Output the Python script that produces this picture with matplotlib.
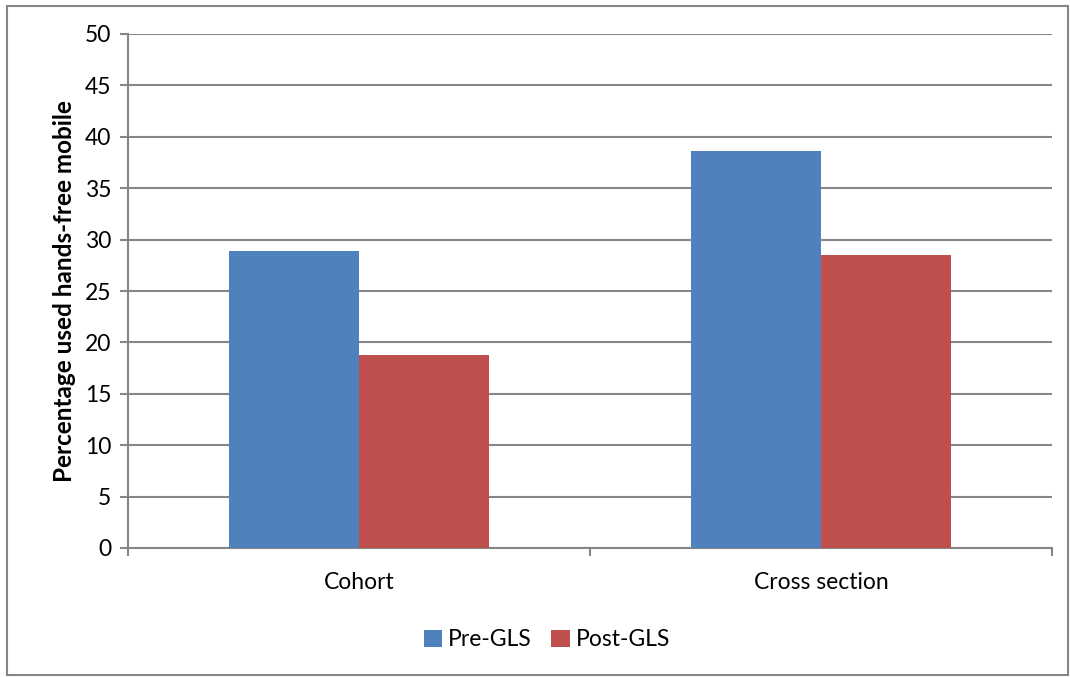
import matplotlib
matplotlib.use("Agg")
import matplotlib.pyplot as plt
import numpy as np
from matplotlib.patches import Rectangle

categories = ["Cohort", "Cross section"]
series_names = ["Pre-GLS", "Post-GLS"]
pre_gls = [28.9, 38.6]
post_gls = [18.8, 28.5]
colors = ["#4F81BD", "#C0504D"]

plt.rcParams['font.family'] = ['Lato', 'DejaVu Sans']

W, H = 1070, 677
fig = plt.figure(figsize=(W/100, H/100), dpi=100)
ax = fig.add_axes([128/W, 1-548/H, (1052-128)/W, (548-34)/H])

x = np.arange(len(categories))
bw = 130/462
ax.bar(x - bw/2, pre_gls, bw, color=colors[0], label=series_names[0], zorder=3)
ax.bar(x + bw/2, post_gls, bw, color=colors[1], label=series_names[1], zorder=3)

ax.set_xlim(-0.5, len(categories)-0.5)
ax.set_ylim(0, 50)
ax.set_yticks(np.arange(0, 51, 5))
ax.yaxis.grid(True, color="#868686", linewidth=1.5, zorder=0)
ax.set_axisbelow(True)

ax.set_xticks(np.arange(-0.5, len(categories), 1.0))
ax.set_xticklabels([])
ax.set_xticks(x, minor=True)
ax.set_xticklabels(categories, minor=True)
ax.tick_params(axis='x', which='minor', length=0, pad=17, labelsize=16.5)
ax.tick_params(axis='x', which='major', length=6, width=1.5, color="#868686")
ax.tick_params(axis='y', length=6, width=1.5, color="#868686", labelsize=16.5, pad=6)

for s in ["top", "right"]:
    ax.spines[s].set_visible(False)
for s in ["left", "bottom"]:
    ax.spines[s].set_color("#868686")
    ax.spines[s].set_linewidth(1.5)

ax.set_ylabel("Percentage used hands-free mobile", fontsize=17.5, fontweight='bold', labelpad=6)

ax.legend(loc='center', bbox_to_anchor=(547/W, 1-640/H), bbox_transform=fig.transFigure,
          ncol=2, frameon=False, fontsize=16.5, handlelength=0.8, handleheight=0.8,
          handletextpad=0.25, columnspacing=0.85)

fig.patches.append(Rectangle((7/W, 1-675/H), (1068-7)/W, (675-6)/H, transform=fig.transFigure,
                             fill=False, edgecolor="#868686", linewidth=1.5))

fig.savefig("out.png", dpi=100)
